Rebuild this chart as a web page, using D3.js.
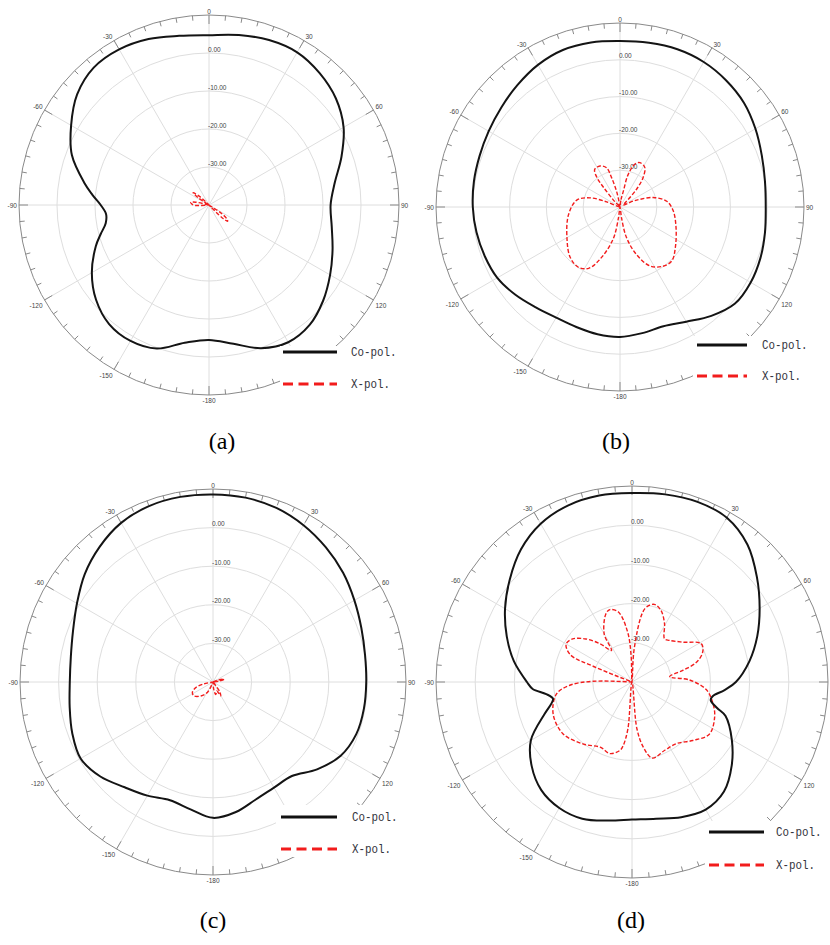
<!DOCTYPE html>
<html>
<head>
<meta charset="utf-8">
<script src="https://cdn.jsdelivr.net/npm/d3@7"></script>
<style>
  body { margin: 0; background: #fff; }
  svg { display: block; }
</style>
</head>
<body>
<svg id="chart" width="830" height="945"></svg>
<script>
// ---- radiation pattern data (angle in degrees, clockwise from 0 at top; gain in dB) ----

// (a)
const aCoAng = [0,10,20,30,40,50,60,70,80,90,100,110,120,130,140,150,160,170,180,190,200,210,220,230,240,250,255,260,265,270,275,280,290,300,310,320,330,340,350];
const aCoDb  = [4.7,5.4,6.2,6.4,5.3,3.6,0.9,-2.9,-6.4,-8.0,-7.2,-5.4,-3.2,-0.8,1.2,1.7,0.1,-2.9,-4.5,-3.2,0.2,1.3,0.9,-1.2,-4.4,-8.3,-10.5,-12.4,-12.8,-11.5,-9.2,-6.7,-1.6,1.9,5.3,7.2,7.3,6.5,5.2];
const aXAng  = [0,120,124,128,131,134,138,265,269,273,278,282,286,300,304,308,312,316];
const aXDb   = [-40,-40,-36,-34,-33.5,-35,-40,-40,-36,-35.5,-35.1,-36.5,-40,-40,-36.5,-34.7,-36.5,-40];

// (b)
const bCoAng = [0,10,20,30,40,50,60,70,80,90,100,110,120,130,140,150,160,170,180,190,200,210,220,230,240,250,260,270,280,290,300,310,320,330,340,350];
const bCoDb  = [5.1,5.3,5.6,5.5,4.9,4.0,2.5,1.0,0.0,-0.4,0.0,0.6,1.0,0.8,-1.4,-4.0,-5.5,-5.2,-4.7,-4.9,-5.3,-5.3,-4.4,-2.9,-1.5,-0.9,-0.4,0.0,0.3,0.6,1.2,2.1,3.3,4.6,5.4,5.4];
const bXAng  = [0,8,12,14,19,24,32,38,43,50,58,66,69,74,83,94,110,126,136,144,153,161,168,172,180,188,192,200,207,215,225,239,261,279,287,291,300,316,320,322,326,334,341,344,348,355];
const bXDb   = [-40,-38,-35.6,-31,-27.7,-26.8,-27.3,-29.8,-33.4,-38,-39,-36,-34.2,-30.6,-27.2,-25.5,-23.8,-21.4,-19.7,-20.1,-22,-26.4,-31.5,-37,-40,-37,-31.2,-25.5,-21.3,-20.1,-20.8,-23.2,-25.8,-28.1,-31.5,-36.1,-40,-38,-33,-29.8,-27.7,-27.6,-28.7,-31.7,-36,-40];

// (c)
const cCoAng = [0,10,20,30,40,50,60,70,80,90,100,110,120,130,140,150,160,170,180,190,200,210,220,230,240,250,260,270,280,290,300,310,320,330,340,350];
const cCoDb  = [8.6,8.5,8.0,6.9,5.5,4.0,2.3,0.9,0.0,-0.3,-0.3,-0.5,-1.8,-4.8,-8.2,-8.4,-7.6,-5.8,-4.8,-6.5,-7.4,-6.0,-4.4,-1.9,-0.4,-1.2,-2.3,-2.9,-2.6,-1.4,0.7,3.4,5.7,7.6,8.5,8.7];
const cXAng  = [0,60,70,76,82,90,135,145,151,157,163,168,174,180,200,208,221,234,243,252,258,265];
const cXDb   = [-40,-40,-38.5,-37,-38.5,-40,-40,-37,-35.9,-37.5,-37,-36.7,-38,-40,-40,-37,-35.2,-33.9,-34,-35.3,-37.5,-40];

// (d)
const dCoAng = [0,10,20,30,40,50,60,70,80,90,95,100,103,107,110,120,130,140,150,160,170,180,190,200,210,220,230,240,250,255,258,262,266,270,280,290,300,310,320,330,340,350];
const dCoDb  = [8.2,8.6,8.9,8.4,5.8,1.6,-2.4,-6.0,-9.6,-13.5,-16.3,-19.1,-19.4,-17.3,-14.6,-10.6,-6.8,-3.5,-2.4,-3.3,-4.6,-4.9,-4.1,-2.9,-2.9,-4.0,-6.6,-10.2,-16.3,-18.7,-19.4,-17.9,-14.6,-13.2,-9.4,-6.0,-2.6,0.7,4.1,6.6,7.9,8.3];
const dXAng  = [0,4,10,16,22,29,37,42,52,61,67,73,77,82,88,96,105,113,124,134,144,154,165,170,174,180,185,188,190,197,206,218,233,248,261,267,271,276,290,292,294,300,306,313,320,327,330,339,343,349,355,358];
const dXDb   = [-40,-31,-21,-19.4,-20.3,-22.9,-26.2,-25.7,-23.5,-19.8,-20.4,-22.8,-26.6,-30.3,-25.3,-20.9,-18.6,-17.1,-16.2,-18.5,-20.6,-20.7,-19.9,-23,-28,-40,-28,-23.5,-22.3,-20.9,-21.5,-19.9,-18.0,-18.3,-20.5,-24.1,-30,-40,-40,-30,-22.7,-20.6,-21.3,-23.9,-27.2,-30.4,-25.8,-21.4,-20.7,-21.8,-27.2,-33];

// ---- axis definitions ----
const dbDomain   = [-40, 10];
const ringLevels = [-30, -20, -10, 0];
const ringLabels = ["-30.00", "-20.00", "-10.00", "0.00"];
const angleTicks  = [0, 30, 60, 90, 120, 150, 180, -150, -120, -90, -60, -30];
const angleLabels = ["0", "30", "60", "90", "120", "150", "-180", "-150", "-120", "-90", "-60", "-30"];
const seriesNames = ["Co-pol.", "X-pol."];
const captions    = ["(a)", "(b)", "(c)", "(d)"];

// ---- layout of the four polar plots ----
const W = 830;
const panels = [
  { cx: 209, cy: 205, R: 190, co: [aCoAng, aCoDb], xp: [aXAng, aXDb],
    leg: { x0: 283, x1: 337, y: 352, gap: 32, tx: 351 }, box: [280, 346, 136, 52], cap: [222, 441] },
  { cx: 620, cy: 207, R: 184, co: [bCoAng, bCoDb], xp: [bXAng, bXDb],
    leg: { x0: 697, x1: 747, y: 345, gap: 31, tx: 762 }, box: [693, 336, 137, 60], cap: [616, 441] },
  { cx: 213, cy: 682, R: 193, co: [cCoAng, cCoDb], xp: [cXAng, cXDb],
    leg: { x0: 281, x1: 337, y: 817, gap: 32, tx: 352 }, box: [276, 805, 140, 52], cap: [213, 920] },
  { cx: 632, cy: 682, R: 196, co: [dCoAng, dCoDb], xp: [dXAng, dXDb],
    leg: { x0: 709, x1: 764, y: 832, gap: 33, tx: 776 }, box: [705, 821, 125, 60], cap: [631, 920] }
];

const svg = d3.select("#chart");
const toRad = d => d * Math.PI / 180;
const gridColor = "#dedede";
const axisColor = "#8a8a8a";
const labelFont = "'Liberation Sans', Arial, sans-serif";

panels.forEach((p, i) => {
  const g = svg.append("g").attr("transform", `translate(${p.cx},${p.cy})`);
  const r = d3.scaleLinear().domain(dbDomain).range([0, p.R]).clamp(true);
  const R = r(dbDomain[1]);

  // concentric dB rings
  g.selectAll("circle.ring").data(ringLevels).join("circle")
    .attr("class", "ring").attr("r", d => r(d))
    .attr("fill", "none").attr("stroke", gridColor).attr("stroke-width", 1);

  // radial spokes every 30 degrees
  g.selectAll("line.spoke").data(d3.range(0, 360, 30)).join("line")
    .attr("class", "spoke")
    .attr("x1", 0).attr("y1", 0)
    .attr("x2", d => R * Math.sin(toRad(d)))
    .attr("y2", d => -R * Math.cos(toRad(d)))
    .attr("stroke", gridColor).attr("stroke-width", 1);

  // outer boundary circle with inward ticks
  g.append("circle").attr("r", R).attr("fill", "none")
    .attr("stroke", axisColor).attr("stroke-width", 1);
  g.selectAll("line.tick").data(d3.range(0, 360, 5)).join("line")
    .attr("class", "tick")
    .attr("x1", d => R * Math.sin(toRad(d)))
    .attr("y1", d => -R * Math.cos(toRad(d)))
    .attr("x2", d => (R - (d % 30 === 0 ? 9 : 5)) * Math.sin(toRad(d)))
    .attr("y2", d => -(R - (d % 30 === 0 ? 9 : 5)) * Math.cos(toRad(d)))
    .attr("stroke", axisColor).attr("stroke-width", 1);

  // angle labels around the boundary (those falling past the page edge are left out)
  const labelX = d => {
    const px = (R + 1) * Math.sin(toRad(d));
    if (d === 0 || d === 180) return px;
    return px + (d > 0 ? 1 : -1);
  };
  const shown = angleTicks.filter(d => !(d > 0 && p.cx + labelX(d) + 8 > W));
  g.selectAll("text.ang").data(shown).join("text")
    .attr("class", "ang")
    .text(d => angleLabels[angleTicks.indexOf(d)])
    .attr("x", labelX)
    .attr("y", d => {
      const c = Math.cos(toRad(d));
      const py = -(R + 1) * c;
      if (c > 0.1) return py - 2.5;
      if (c < -0.1) return py + 5;
      return py + 1;
    })
    .attr("dy", "0.35em")
    .attr("text-anchor", d => (d === 0 || d === 180) ? "middle" : (d > 0 ? "start" : "end"))
    .attr("font-family", labelFont).attr("font-size", 6.5).attr("fill", "#444");

  // dB labels along the 0-degree spoke
  g.selectAll("text.db").data(ringLevels).join("text")
    .attr("class", "db")
    .text((d, k) => ringLabels[k])
    .attr("x", -1).attr("y", d => -r(d) - 1.5)
    .attr("font-family", labelFont).attr("font-size", 6.5).attr("fill", "#444");

  // pattern traces
  const radial = d3.lineRadial()
    .angle(d => toRad(d[0]))
    .radius(d => r(d[1]))
    .curve(d3.curveCatmullRomClosed.alpha(0.5));

  const coPts = p.co[0].map((a, k) => [a, p.co[1][k]]);
  const xPts  = p.xp[0].map((a, k) => [a, p.xp[1][k]]);

  g.append("path").attr("d", radial(xPts))
    .attr("fill", "none").attr("stroke", "#f21c1c")
    .attr("stroke-width", 1.4).attr("stroke-dasharray", "4 2");

  g.append("path").attr("d", radial(coPts))
    .attr("fill", "none").attr("stroke", "#141414")
    .attr("stroke-width", 2).attr("stroke-linejoin", "round");

  // legend with its white backing
  svg.append("rect")
    .attr("x", p.box[0]).attr("y", p.box[1])
    .attr("width", p.box[2]).attr("height", p.box[3]).attr("fill", "#fff");

  const L = p.leg;
  svg.append("line")
    .attr("x1", L.x0).attr("x2", L.x1).attr("y1", L.y).attr("y2", L.y)
    .attr("stroke", "#111").attr("stroke-width", 3);
  svg.append("line")
    .attr("x1", L.x0).attr("x2", L.x1).attr("y1", L.y + L.gap).attr("y2", L.y + L.gap)
    .attr("stroke", "#f21c1c").attr("stroke-width", 3).attr("stroke-dasharray", "10 5.5");

  seriesNames.forEach((name, k) => {
    svg.append("text")
      .attr("x", L.tx).attr("y", L.y + k * L.gap).attr("dy", "0.35em")
      .attr("font-family", "'Liberation Mono', 'DejaVu Sans Mono', monospace")
      .attr("font-size", 12).attr("fill", "#34343c")
      .attr("textLength", name.length * 6.5).attr("lengthAdjust", "spacingAndGlyphs")
      .text(name);
  });

  // sub-figure caption
  svg.append("text")
    .attr("x", p.cap[0]).attr("y", p.cap[1]).attr("dy", "0.35em")
    .attr("text-anchor", "middle")
    .attr("font-family", "'Liberation Serif', 'Times New Roman', serif")
    .attr("font-size", 24).attr("fill", "#000")
    .text(captions[i]);
});
</script>
</body>
</html>
